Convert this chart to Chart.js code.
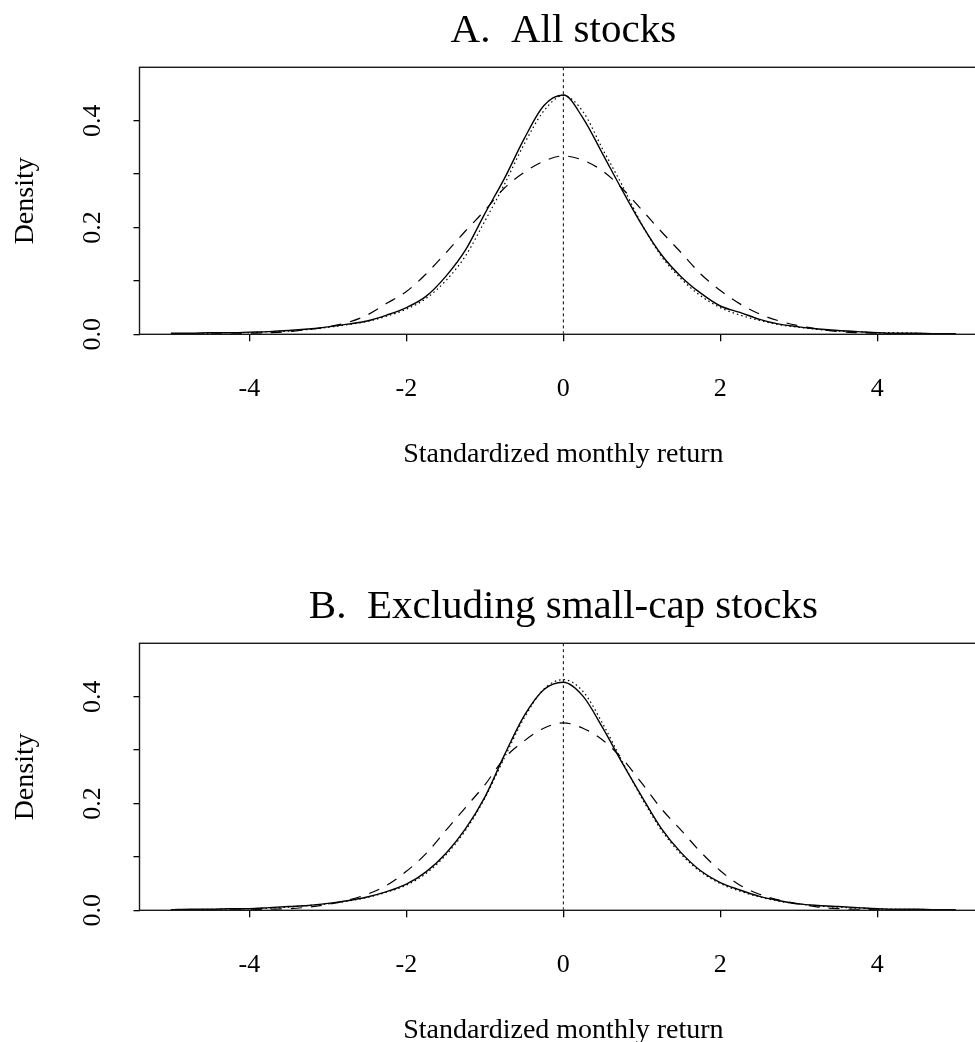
<!DOCTYPE html>
<html>
<head>
<meta charset="utf-8">
<title>Standardized monthly return densities</title>
<script src="https://cdn.jsdelivr.net/npm/chart.js@4.4.1/dist/chart.umd.min.js"></script>
<style>
  html, body { margin: 0; padding: 0; background: #fff; overflow: hidden; }
  body { width: 975px; height: 1042px; position: relative; }
  .panel { position: absolute; left: 0; width: 1000px; height: 576px; }
</style>
</head>
<body>
<div class="panel" style="top:0px"><canvas id="chartA"></canvas></div>
<div class="panel" style="top:576px"><canvas id="chartB"></canvas></div>

<script>
// x grid the curves were read at (standardized return)
var xGrid = [-5, -4.75, -4.5, -4.25, -4, -3.75, -3.5, -3.25, -3, -2.75, -2.5, -2.25, -2, -1.75, -1.5, -1.25,
  -1, -0.75, -0.5, -0.25, 0, 0.25, 0.5, 0.75, 1, 1.25, 1.5, 1.75, 2, 2.25, 2.5, 2.75, 3, 3.25, 3.5, 3.75,
  4, 4.25, 4.5, 4.75, 5];

// Panel A: all stocks
var allSolid = [0.002, 0.002, 0.003, 0.003, 0.004, 0.005, 0.007, 0.010, 0.014, 0.019, 0.025, 0.036, 0.050, 0.071, 0.108, 0.157,
  0.226, 0.292, 0.366, 0.428, 0.448, 0.405, 0.338, 0.270, 0.205, 0.149, 0.108, 0.077, 0.053, 0.041, 0.028, 0.019, 0.014, 0.010, 0.007, 0.005,
  0.003, 0.002, 0.002, 0.001, 0.001];
var allDotted = [0.001, 0.001, 0.002, 0.003, 0.003, 0.005, 0.006, 0.009, 0.013, 0.018, 0.024, 0.034, 0.047, 0.067, 0.100, 0.146,
  0.212, 0.281, 0.356, 0.418, 0.447, 0.417, 0.347, 0.279, 0.206, 0.146, 0.104, 0.072, 0.050, 0.036, 0.026, 0.018, 0.013, 0.009, 0.006, 0.005,
  0.003, 0.003, 0.002, 0.001, 0.001];
var allDashed = [0.000, 0.000, 0.001, 0.001, 0.002, 0.003, 0.005, 0.009, 0.014, 0.022, 0.036, 0.058, 0.080, 0.113, 0.152, 0.193,
  0.232, 0.274, 0.303, 0.324, 0.334, 0.326, 0.306, 0.273, 0.233, 0.192, 0.153, 0.113, 0.082, 0.057, 0.038, 0.025, 0.016, 0.010, 0.005, 0.003,
  0.002, 0.001, 0.001, 0.000, 0.000];

// Panel B: excluding small-cap stocks
var bigSolid = [0.001, 0.002, 0.002, 0.003, 0.003, 0.005, 0.007, 0.009, 0.013, 0.018, 0.025, 0.035, 0.049, 0.072, 0.106, 0.152,
  0.212, 0.291, 0.364, 0.413, 0.427, 0.401, 0.342, 0.276, 0.213, 0.153, 0.108, 0.074, 0.052, 0.038, 0.026, 0.018, 0.012, 0.009, 0.007, 0.005,
  0.003, 0.002, 0.002, 0.001, 0.001];
var bigDotted = [0.001, 0.001, 0.002, 0.002, 0.003, 0.004, 0.006, 0.009, 0.012, 0.017, 0.024, 0.034, 0.047, 0.069, 0.103, 0.149,
  0.210, 0.286, 0.360, 0.414, 0.432, 0.410, 0.350, 0.279, 0.210, 0.150, 0.105, 0.072, 0.050, 0.036, 0.025, 0.017, 0.012, 0.008, 0.006, 0.004,
  0.003, 0.002, 0.002, 0.001, 0.001];
var bigDashed = [0.000, 0.000, 0.000, 0.001, 0.001, 0.002, 0.003, 0.006, 0.011, 0.019, 0.030, 0.047, 0.073, 0.106, 0.149, 0.192,
  0.235, 0.285, 0.317, 0.341, 0.351, 0.341, 0.319, 0.284, 0.238, 0.190, 0.150, 0.109, 0.074, 0.047, 0.030, 0.019, 0.012, 0.006, 0.003, 0.002,
  0.001, 0.001, 0.000, 0.000, 0.000];

// axes
var xTicks = [-4, -2, 0, 2, 4];
var yTicks = [0, 0.1, 0.2, 0.3, 0.4];
var yLabelValues = [0, 0.2, 0.4];
var yTickLabels = ['0.0', '0.2', '0.4'];
var xMin = -5.4, xMax = 5.4, yMin = 0, yMax = 0.5;
var xTitle = 'Standardized monthly return';
var yTitle = 'Density';
var zeroLine = [0, 0];   // vertical reference at x = 0 (y from yMin to yMax)

Chart.defaults.font.family = '"Liberation Serif", "Times New Roman", serif';
Chart.defaults.color = '#000';

function toPoints(xs, ys) {
  return xs.map(function (x, i) { return { x: x, y: ys[i] }; });
}

// R-style titles, box and rotated y labels
var rLabels = {
  id: 'rLabels',
  afterDraw: function (chart) {
    var ctx = chart.ctx;
    var area = chart.chartArea;
    var yScale = chart.scales.y;
    var cx = (area.left + area.right) / 2;
    var cy = (area.top + area.bottom) / 2;
    ctx.save();
    ctx.strokeStyle = '#1a1a1a';
    ctx.lineWidth = 1.4;
    ctx.strokeRect(area.left, area.top, area.right - area.left, area.bottom - area.top);

    ctx.fillStyle = '#000';
    ctx.textAlign = 'center';
    ctx.textBaseline = 'alphabetic';
    ctx.font = '41px "Liberation Serif"';
    ctx.fillText(chart.options.plugins.rLabels.title, cx, area.top - 25.5);

    ctx.font = '28px "Liberation Serif"';
    ctx.fillText(xTitle, cx, area.bottom + 127.5);

    ctx.save();
    ctx.translate(area.left - 107, cy);
    ctx.rotate(-Math.PI / 2);
    ctx.fillText(yTitle, 0, 0);
    ctx.restore();

    ctx.font = '26px "Liberation Serif"';
    yLabelValues.forEach(function (v, i) {
      ctx.save();
      ctx.translate(area.left - 39.5, yScale.getPixelForValue(v));
      ctx.rotate(-Math.PI / 2);
      ctx.fillText(yTickLabels[i], 0, 0);
      ctx.restore();
    });
    ctx.restore();
  }
};

function BuildChart(canvasId, panelTitle, solid, dotted, dashed) {
  var data = {
    datasets: [{
      data: [{ x: zeroLine[0], y: yMin }, { x: zeroLine[1], y: yMax }],
      borderColor: '#000', borderWidth: 1, borderDash: [3, 3]
    }, {
      data: toPoints(xGrid, dashed),
      borderColor: '#000', borderWidth: 1.2, borderDash: [11, 9]
    }, {
      data: toPoints(xGrid, dotted),
      borderColor: '#000', borderWidth: 1.2, borderDash: [1.5, 3]
    }, {
      data: toPoints(xGrid, solid),
      borderColor: '#000', borderWidth: 1.4
    }]
  };

  var ctx = document.getElementById(canvasId).getContext('2d');
  return new Chart(ctx, {
    type: 'line',
    data: data,
    plugins: [rLabels],
    options: {
      responsive: true,
      maintainAspectRatio: false,
      animation: false,
      layout: { padding: { top: 67.3, right: 12.8, bottom: 0, left: 0 } },
      elements: {
        point: { radius: 0 },
        line: { cubicInterpolationMode: 'monotone', fill: false }
      },
      plugins: {
        legend: { display: false },
        tooltip: { enabled: false },
        rLabels: { title: panelTitle }
      },
      scales: {
        x: {
          type: 'linear', min: xMin, max: xMax,
          afterBuildTicks: function (s) { s.ticks = xTicks.map(function (v) { return { value: v }; }); },
          afterFit: function (s) { s.height = 241.7; },
          grid: { drawOnChartArea: false, drawTicks: true, tickLength: 7, color: '#000', lineWidth: 1.3 },
          border: { display: false },
          ticks: { padding: 32, maxRotation: 0, font: { size: 26 }, color: '#000' }
        },
        y: {
          type: 'linear', min: yMin, max: yMax,
          afterBuildTicks: function (s) { s.ticks = yTicks.map(function (v) { return { value: v }; }); },
          afterFit: function (s) { s.width = 139.5; },
          grid: { drawOnChartArea: false, drawTicks: true, tickLength: 6, color: '#000', lineWidth: 1.3 },
          border: { display: false },
          ticks: { display: false }
        }
      }
    }
  });
}

BuildChart('chartA', 'A.  All stocks', allSolid, allDotted, allDashed);
BuildChart('chartB', 'B.  Excluding small-cap stocks', bigSolid, bigDotted, bigDashed);
</script>
</body>
</html>
